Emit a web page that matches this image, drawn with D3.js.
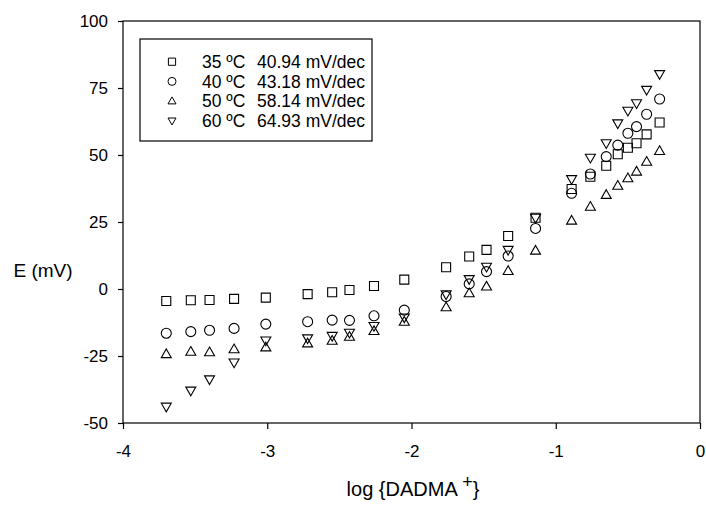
<!DOCTYPE html>
<html>
<head>
<meta charset="utf-8">
<script src="https://cdn.jsdelivr.net/npm/d3@7"></script>
<style>
  body { margin: 0; background: #fff; }
  text { font-family: "Liberation Sans", Arial, sans-serif; fill: #000; }
</style>
</head>
<body>
<svg width="706" height="509"></svg>
<script>
var width = 706;
var height = 509;
var margin = {top: 21, bottom: 86, left: 123, right: 6};

// log {DADMA+} values (shared by all series)
var logC = [-3.70, -3.53, -3.40, -3.23, -3.01, -2.72, -2.55, -2.43, -2.26, -2.05,
            -1.76, -1.60, -1.48, -1.33, -1.14, -0.89, -0.76, -0.65, -0.57, -0.50,
            -0.44, -0.37, -0.28];

// E (mV) per temperature
var e35 = [-4.5, -4.2, -4.1, -3.7, -3.2, -1.9, -1.2, -0.4, 1.1, 3.5,
           8.1, 12.1, 14.6, 19.8, 26.6, 37.3, 41.9, 46.0, 50.3, 52.7,
           54.4, 57.7, 62.1];
var e40 = [-16.5, -15.9, -15.4, -14.7, -13.1, -12.2, -11.6, -11.7, -10.0, -7.9,
           -2.8, 1.9, 6.5, 12.3, 22.6, 35.7, 42.9, 49.4, 53.7, 58.1,
           60.6, 65.2, 70.9];
var e50 = [-24.3, -23.4, -23.6, -22.5, -21.8, -20.3, -19.3, -17.8, -15.7, -12.2,
           -6.8, -1.6, 0.9, 6.7, 14.3, 25.5, 30.7, 35.1, 38.5, 41.3,
           43.8, 47.5, 51.5];
var e60 = [-43.9, -37.9, -33.7, -27.4, -19.2, -18.4, -17.5, -16.3, -13.8, -10.6,
           -2.0, 3.7, 8.3, 14.6, 26.6, 41.0, 49.0, 54.4, 61.8, 66.5,
           69.3, 74.3, 80.2];

var legendLabels = ['35 ºC', '40 ºC', '50 ºC', '60 ºC'];
var slopes = ['40.94 mV/dec', '43.18 mV/dec', '58.14 mV/dec', '64.93 mV/dec'];
var shapes = ['square', 'circle', 'up', 'down'];
var seriesValues = [e35, e40, e50, e60];

var xTicks = [-4, -3, -2, -1, 0];
var yTicks = [-50, -25, 0, 25, 50, 75, 100];

var svg = d3.select('svg');

var xScale = d3.scaleLinear()
  .domain([-4, 0])
  .range([margin.left, width - margin.right]);

var yScale = d3.scaleLinear()
  .domain([-50, 100])
  .range([height - margin.bottom, margin.top]);

// marker path centred on 0,0
function marker(shape, s) {
  var h = s / 2;
  if (shape === 'square') {
    var q = h * 0.9;
    return 'M' + (-q) + ',' + (-q) + 'h' + 2 * q + 'v' + 2 * q + 'h' + (-2 * q) + 'Z';
  }
  if (shape === 'circle') return 'M' + h + ',0A' + h + ',' + h + ' 0 1,1 ' + (-h) + ',0A' + h + ',' + h + ' 0 1,1 ' + h + ',0Z';
  var t = s * 0.87;
  if (shape === 'up') return 'M0,' + (-t * 0.6) + 'L' + h + ',' + (t * 0.4) + 'L' + (-h) + ',' + (t * 0.4) + 'Z';
  return 'M0,' + (t * 0.6) + 'L' + h + ',' + (-t * 0.4) + 'L' + (-h) + ',' + (-t * 0.4) + 'Z';
}

// frame
svg.append('rect')
  .attr('x', xScale(-4)).attr('y', yScale(100))
  .attr('width', xScale(0) - xScale(-4))
  .attr('height', yScale(-50) - yScale(100))
  .attr('fill', 'none').attr('stroke', '#000').attr('stroke-width', 1.2);

// plain hyphen for negatives, as in the original
var fmt = d => String(d);

var xAxis = d3.axisBottom(xScale)
  .tickValues(xTicks)
  .tickSize(6)
  .tickPadding(16)
  .tickFormat(fmt);

var yAxis = d3.axisLeft(yScale)
  .tickValues(yTicks)
  .tickSize(5)
  .tickPadding(10)
  .tickFormat(fmt);

svg.append('g')
  .attr('transform', 'translate(' + [0, yScale(-50)] + ')')
  .call(xAxis)
  .call(g => g.select('.domain').remove());

svg.append('g')
  .attr('transform', 'translate(' + [xScale(-4), 0] + ')')
  .call(yAxis)
  .call(g => g.select('.domain').remove());

svg.selectAll('.tick line').attr('stroke', '#000').attr('stroke-width', 1.2);
svg.selectAll('.tick text')
  .attr('font-size', 17)
  .attr('font-family', '"Liberation Sans", Arial, sans-serif')
  .attr('fill', '#000');

// points
seriesValues.forEach((vals, i) => {
  svg.append('g')
    .selectAll('path')
    .data(vals)
    .join('path')
    .attr('transform', (d, j) => 'translate(' + [xScale(logC[j]), yScale(d)] + ')')
    .attr('d', marker(shapes[i], 10))
    .attr('fill', 'none')
    .attr('stroke', '#000')
    .attr('stroke-width', 1.1);
});

// axis titles
svg.append('text')
  .attr('x', 43).attr('y', 277)
  .attr('text-anchor', 'middle')
  .attr('font-size', 19)
  .text('E (mV)');

var xt = svg.append('text')
  .attr('x', 413).attr('y', 496)
  .attr('text-anchor', 'middle')
  .attr('font-size', 20);
xt.append('tspan').text('log {DADMA ');
xt.append('tspan').attr('dy', -8).attr('font-size', 18).text('+');
xt.append('tspan').attr('dy', 8).text('}');

// legend
var lg = svg.append('g');
lg.append('rect')
  .attr('x', 140).attr('y', 39)
  .attr('width', 232).attr('height', 102)
  .attr('fill', '#fff').attr('stroke', '#000').attr('stroke-width', 1.2);

legendLabels.forEach((lab, i) => {
  var y = 61.7 + i * 19.7;
  lg.append('path')
    .attr('transform', 'translate(' + [172, y] + ')')
    .attr('d', marker(shapes[i], 8))
    .attr('fill', 'none').attr('stroke', '#000').attr('stroke-width', 1);
  lg.append('text').attr('x', 202).attr('y', y + 6.3).attr('font-size', 17.5).text(lab);
  lg.append('text').attr('x', 257).attr('y', y + 6.3).attr('font-size', 17.5).text(slopes[i]);
});
</script>
</body>
</html>
